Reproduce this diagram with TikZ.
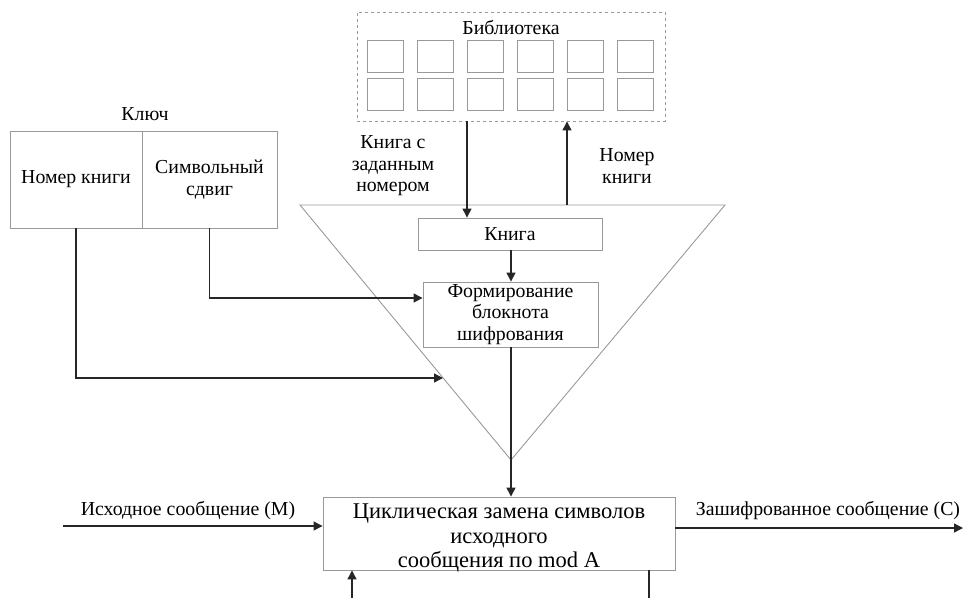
\documentclass[tikz,border=0pt]{standalone}
\usepackage{fontspec}
\setmainfont{Liberation Serif}
\usetikzlibrary{arrows.meta,calc}
\begin{document}
\begin{tikzpicture}[x=1pt,y=-1pt,
  gbox/.style={draw=black!40,line width=0.9pt,rectangle,inner sep=0pt,align=center,font=\fontsize{19.8}{21.5}\selectfont},
  sq/.style={draw=black!40,line width=0.9pt,rectangle,minimum width=36,minimum height=32,inner sep=0pt},
  conn/.style={draw=black!85,line width=1.3pt},
  arr/.style={conn,-{Triangle[length=9pt,width=9pt]}},
  lbl/.style={align=center,inner sep=0pt,font=\fontsize{19.8}{21.5}\selectfont}]
\useasboundingbox (0,0) rectangle (968,598);
% library
\node[draw=black!40,dashed,line width=0.9pt,minimum width=308,minimum height=109,inner sep=0pt] (lib) at (511,66.5) {};
\node[lbl] (libt) at (511,28) {Библиотека};
\foreach \i in {0,...,5}{
  \node[sq] (sa\i) at (385+50*\i,56) {};
  \node[sq] (sb\i) at (385+50*\i,94) {};
}
% key
\node[lbl] (keyl) at (145,114) {Ключ};
\node[gbox,minimum width=132,minimum height=97] (keyA) at (76,179.5) {Номер книги};
\node[gbox,minimum width=135,minimum height=97] (keyB) at (209.5,179.5) {Символьный\\сдвиг};
% triangle
\coordinate (tl) at (300,205);
\coordinate (tr) at (725,205);
\coordinate (tb) at (511,460);
\draw[draw=black!40,line width=0.9pt] (tl) -- (tr) -- (tb) -- cycle;
% inner boxes
\node[gbox,minimum width=184,minimum height=32] (book) at (510,234) {Книга};
\node[gbox,minimum width=175,minimum height=65] (form) at (510.5,314.5) {Формирование\\блокнота\\шифрования};
\node[gbox,minimum width=352,minimum height=73] (cyc) at (499,533.5) {};
\node[lbl,font=\fontsize{22.5}{24.8}\selectfont] (cyct) at (499,538) {Циклическая замена символов\\исходного\\сообщения по mod A};
% labels
\node[lbl] (l1) at (393,166) {Книга с\\заданным\\номером};
\node[lbl] (l2) at (627,166) {Номер\\книги};
\node[lbl,anchor=base] (lin) at (188,515) {Исходное сообщение (М)};
\node[lbl,anchor=base] (lout) at (828,515) {Зашифрованное сообщение (С)};
% helper coordinates
\coordinate (x1) at (467,0);
\coordinate (x2) at (567,0);
\coordinate (x3) at (511,0);
\coordinate (ky) at (0,378);
\coordinate (kt) at (443,378);
\coordinate (fy) at (0,298);
\coordinate (inS) at (63,526);
\coordinate (outE) at (963,528);
\coordinate (b1) at (352,598);
\coordinate (b2) at (649,598);
% connectors
\draw[arr] (lib.south -| x1) -- (book.north -| x1);
\draw[arr] (tl -| x2) -- (lib.south -| x2);
\draw[arr] (book.south -| x3) -- (form.north -| x3);
\draw[arr] (form.south -| x3) -- (cyc.north -| x3);
\draw[arr] (keyA.south) -- (keyA.south |- ky) -- (kt);
\draw[arr] (keyB.south) -- (keyB.south |- fy) -- (form.west |- fy);
\draw[arr] (inS) -- (cyc.west |- inS);
\draw[arr] (cyc.east |- outE) -- (outE);
\draw[arr] (b1) -- (cyc.south -| b1);
\draw[conn] (cyc.south -| b2) -- (b2);
\end{tikzpicture}
\end{document}
